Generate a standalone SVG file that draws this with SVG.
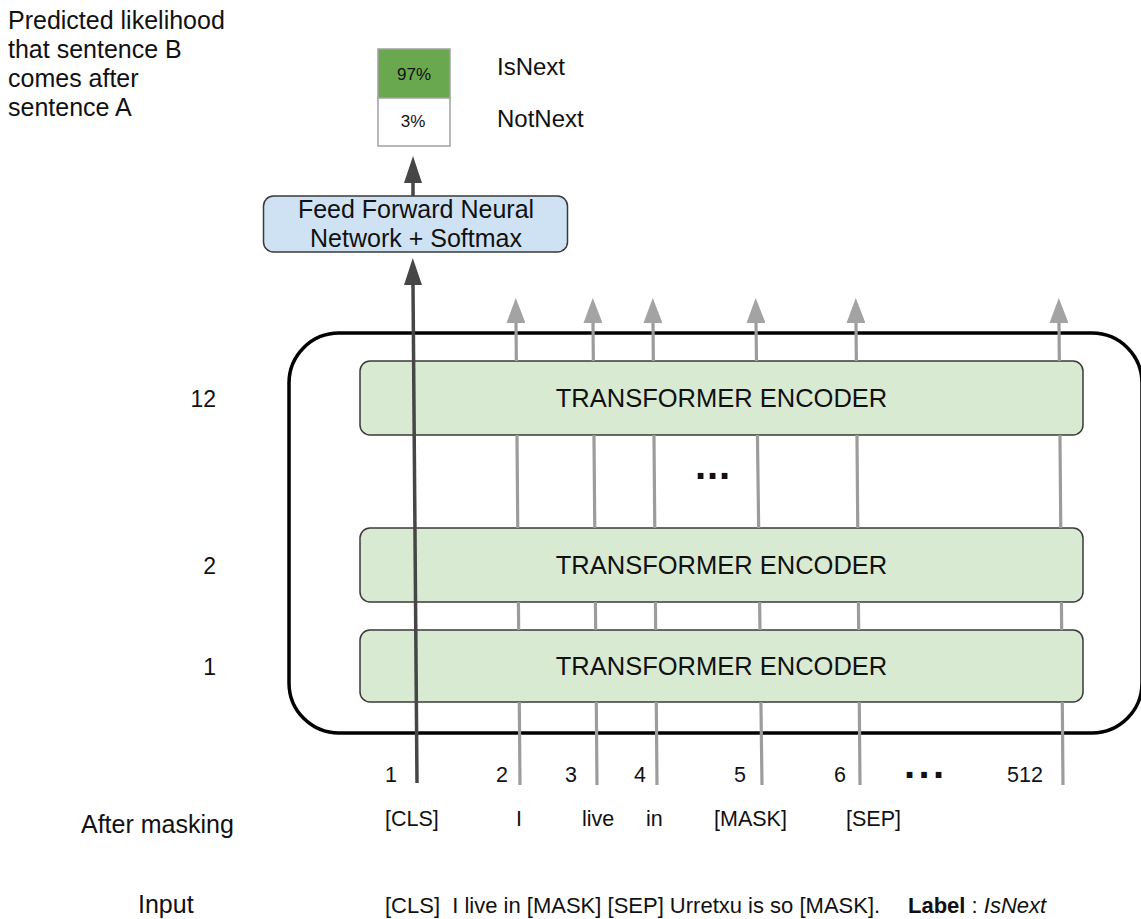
<svg xmlns="http://www.w3.org/2000/svg" width="1141" height="919" viewBox="0 0 1141 919">
<style>
text{font-family:"Liberation Sans",Arial,sans-serif;fill:#111}
.enc{fill:#d9ead3;stroke:#3a3a3a;stroke-width:1.5}
.enct{font-size:25.5px;text-anchor:middle}
.lbl{font-size:23px;text-anchor:end}
.num{font-size:21.5px}
.tok{font-size:21.5px}
.big{font-size:25px}
.grey{fill:none;stroke:#9c9c9c;stroke-width:3.2}
.dark{fill:none;stroke:#464646;stroke-width:3.5}
.dots{font-size:40px;font-weight:bold}
</style>
<defs>
<marker id="ag" viewBox="0 0 25 19" refX="0" refY="9.5" markerWidth="25" markerHeight="19" markerUnits="userSpaceOnUse" orient="auto">
<path d="M0,0 L25,9.5 L0,19 Z" fill="#a3a3a3"/>
</marker>
<marker id="ad" viewBox="0 0 27 18" refX="0" refY="9" markerWidth="27" markerHeight="18" markerUnits="userSpaceOnUse" orient="auto">
<path d="M0,0 L27,9 L0,18 Z" fill="#464646"/>
</marker>
</defs>
<rect width="1141" height="919" fill="#fff"/>

<g id="caption">
<text class="big" x="8" y="29">Predicted likelihood</text>
<text class="big" x="8" y="58">that sentence B</text>
<text class="big" x="8" y="87">comes after</text>
<text class="big" x="8" y="116">sentence A</text>
</g>

<g id="output">
<rect x="378" y="49" width="72" height="49" fill="#6aa84f" stroke="#a0a0a0" stroke-width="1.5"/>
<rect x="378" y="98" width="72" height="48" fill="#fff" stroke="#a0a0a0" stroke-width="1.5"/>
<text x="414" y="80" font-size="17" text-anchor="middle">97%</text>
<text x="413" y="127" font-size="17" text-anchor="middle">3%</text>
<text class="big" x="497" y="75" font-size="24" style="font-size:24px">IsNext</text>
<text class="big" x="497" y="127" style="font-size:24px">NotNext</text>
</g>

<g id="ffnn">
<rect x="263.5" y="196" width="304" height="56" rx="10" fill="#cfe2f3" stroke="#3a3a3a" stroke-width="1.5"/>
<text class="big" x="416" y="218" text-anchor="middle">Feed Forward Neural</text>
<text class="big" x="416" y="247" text-anchor="middle">Network + Softmax</text>
</g>

<g id="stack">
<rect x="289" y="333" width="853" height="400" rx="50" fill="none" stroke="#000" stroke-width="3.5"/>
</g>

<g id="encoder12">
<rect class="enc" x="360" y="361" width="723" height="74" rx="10"/>
<text class="enct" x="721.5" y="407">TRANSFORMER ENCODER</text>
</g>
<g id="encoder2">
<rect class="enc" x="360" y="528" width="723" height="74" rx="10"/>
<text class="enct" x="721.5" y="574">TRANSFORMER ENCODER</text>
</g>
<g id="encoder1">
<rect class="enc" x="360" y="630" width="723" height="72" rx="10"/>
<text class="enct" x="721.5" y="675">TRANSFORMER ENCODER</text>
</g>

<g id="layer-labels">
<text class="lbl" x="216" y="407">12</text>
<text class="lbl" x="216" y="574">2</text>
<text class="lbl" x="216" y="675">1</text>
<text class="dots" x="695" y="479" letter-spacing="0.9">...</text>
</g>

<g id="positions">
<text class="num" x="385" y="782">1</text>
<text class="num" x="496" y="782">2</text>
<text class="num" x="565" y="782">3</text>
<text class="num" x="634" y="782">4</text>
<text class="num" x="734" y="782">5</text>
<text class="num" x="834" y="782">6</text>
<text class="dots" x="904" y="778" letter-spacing="3.4">...</text>
<text class="num" x="1007" y="782">512</text>
</g>

<g id="tokens">
<text class="big" x="81" y="833">After masking</text>
<text class="tok" x="385" y="826">[CLS]</text>
<text class="tok" x="516" y="826">I</text>
<text class="tok" x="582" y="826">live</text>
<text class="tok" x="646" y="826">in</text>
<text class="tok" x="714" y="826">[MASK]</text>
<text class="tok" x="846" y="826">[SEP]</text>
</g>

<g id="input">
<text class="big" x="138" y="913">Input</text>
<text x="385" y="913" font-size="22" xml:space="preserve">[CLS]  I live in [MASK] [SEP] Urretxu is so [MASK].</text>
<text x="908" y="913" font-size="22" xml:space="preserve"><tspan font-weight="bold">Label</tspan> : <tspan font-style="italic">IsNext</tspan></text>
</g>

<g id="connectors">
<path class="grey" d="M520,785 L519.28,702 M518.66,630 L518.42,602 M517.77,528 L516.97,435 M516.33,361 L516,323" marker-end="url(#ag)"/>
<path class="grey" d="M597,785 L596.28,702 M595.66,630 L595.42,602 M594.77,528 L593.97,435 M593.33,361 L593,323" marker-end="url(#ag)"/>
<path class="grey" d="M657,785 L656.28,702 M655.66,630 L655.42,602 M654.77,528 L653.97,435 M653.33,361 L653,323" marker-end="url(#ag)"/>
<path class="grey" d="M762,785 L760.92,702 M759.99,630 L759.62,602 M758.66,528 L757.45,435 M756.49,361 L756,323" marker-end="url(#ag)"/>
<path class="grey" d="M860,785 L859.28,702 M858.66,630 L858.42,602 M857.77,528 L856.97,435 M856.33,361 L856,323" marker-end="url(#ag)"/>
<path class="grey" d="M1063,785 L1062.28,702 M1061.66,630 L1061.42,602 M1060.77,528 L1059.97,435 M1059.33,361 L1059,323" marker-end="url(#ag)"/>
<path class="dark" d="M417,783 L413,285" marker-end="url(#ad)"/>
<path class="dark" d="M413,196 L413,183" marker-end="url(#ad)"/>
</g>
</svg>
